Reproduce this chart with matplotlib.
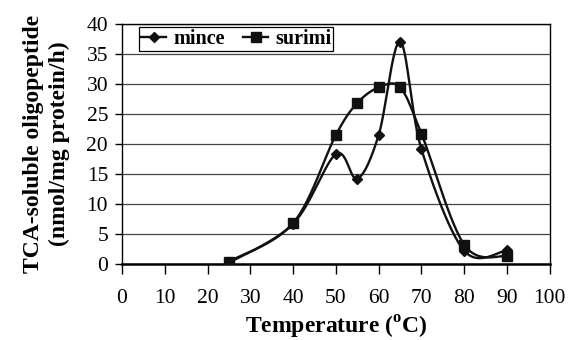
import numpy as np
import matplotlib
matplotlib.use('Agg')
import matplotlib.pyplot as plt

temps = [25, 40, 50, 55, 60, 65, 70, 80, 90]
mince = [0.2, 6.7, 18.3, 14.2, 21.5, 37.0, 19.1, 2.2, 2.3]
surimi = [0.4, 6.8, 21.5, 26.8, 29.4, 29.4, 21.7, 3.2, 1.3]

plt.rcParams['font.family'] = 'Liberation Serif'
plt.rcParams['mathtext.fontset'] = 'custom'
plt.rcParams['mathtext.rm'] = 'Liberation Serif:bold'
plt.rcParams['mathtext.bf'] = 'Liberation Serif:bold'


def smooth(x, y, n=30):
    # excel style smoothed line (catmull-rom bezier)
    p = np.column_stack([x, y]).astype(float)
    out = []
    for i in range(len(p) - 1):
        p0 = p[i - 1] if i > 0 else p[i]
        p3 = p[i + 2] if i + 2 < len(p) else p[i + 1]
        p1, p2 = p[i], p[i + 1]
        c1 = p1 + (p2 - p0) / 6
        c2 = p2 - (p3 - p1) / 6
        t = np.linspace(0, 1, n)[:, None]
        seg = ((1 - t) ** 3 * p1 + 3 * (1 - t) ** 2 * t * c1
               + 3 * (1 - t) * t ** 2 * c2 + t ** 3 * p2)
        out.append(seg if i == 0 else seg[1:])
    out = np.vstack(out)
    return out[:, 0], out[:, 1]


fig = plt.figure(figsize=(5.68, 3.40), dpi=100)
ax = fig.add_axes([0.2148, 0.2235, 0.7532, 0.7065])

for vals, mk, ms, lab in [(mince, 'D', 5.5, 'mince'), (surimi, 's', 6.5, 'surimi')]:
    sx, sy = smooth(temps, vals)
    ax.plot(sx, sy, color='#111111', lw=1.7, zorder=3)
    ax.plot(temps, vals, ls='none', marker=mk, ms=ms, color='#111111', zorder=4)
    ax.plot([], [], color='#111111', lw=1.7, marker=mk, ms=ms, label=lab)

ax.set_xlim(0, 100)
ax.set_ylim(0, 40)
ax.set_xticks(range(0, 101, 10))
ax.set_yticks(range(0, 41, 5))
ax.yaxis.grid(True, color='#444444', lw=0.9)
ax.set_axisbelow(True)
ax.tick_params(labelsize=15.5, direction='out', width=1)
ax.tick_params(axis='x', length=7, pad=11)
ax.tick_params(axis='y', length=5, pad=5)
for s in ax.spines.values():
    s.set_linewidth(1)
ax.spines['bottom'].set_linewidth(1.8)

ax.set_xlabel(r'Temperature ($^{\rm o}$C)', fontsize=17, fontweight='bold', labelpad=4)
ax.set_ylabel('TCA-soluble oligopeptide\n(nmol/mg protein/h)', fontsize=17,
              fontweight='bold', labelpad=12, linespacing=1.3)

leg = ax.legend(loc='upper left', bbox_to_anchor=(0.04, 0.985), ncol=2,
                prop={'weight': 'bold', 'size': 14.5}, frameon=True, fancybox=False,
                edgecolor='black', borderpad=0.1, handlelength=1.25,
                handletextpad=0.35, columnspacing=0.9, borderaxespad=0.0)
leg.get_frame().set_linewidth(0.9)
leg.get_frame().set_alpha(1)

fig.savefig('out.png', dpi=100)
